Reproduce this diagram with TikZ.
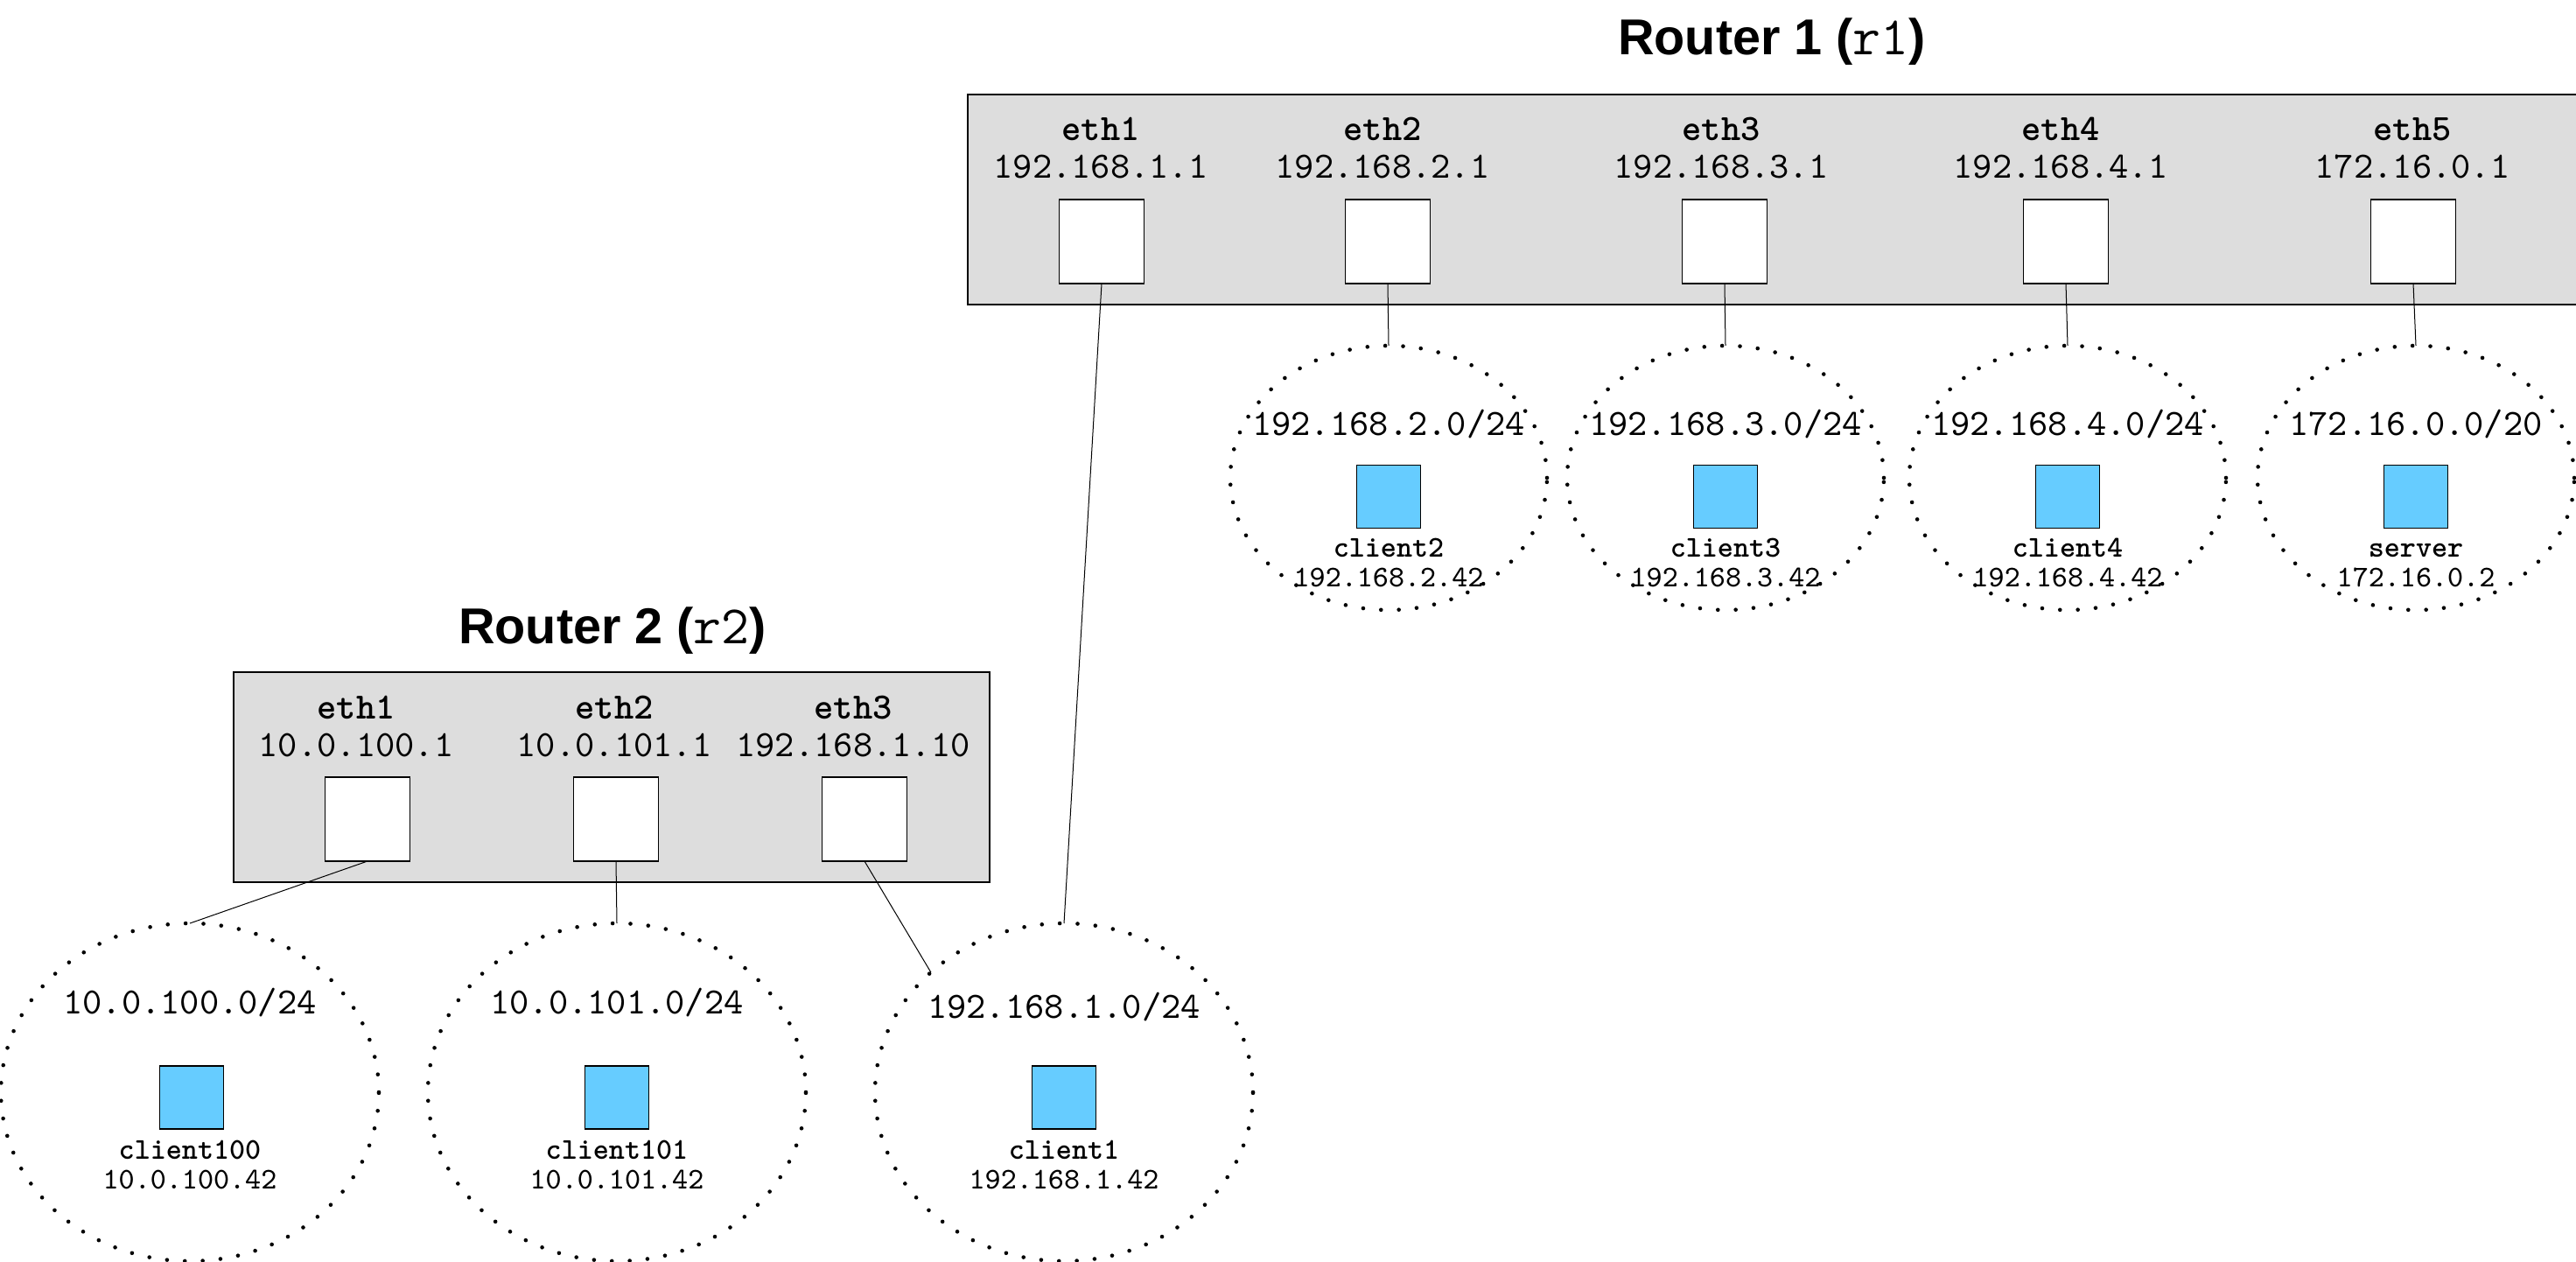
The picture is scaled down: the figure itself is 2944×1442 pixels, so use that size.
\documentclass[tikz,border=0pt]{standalone}
\usepackage{fontspec}
\setmainfont{Liberation Sans}
\usetikzlibrary{shapes.geometric}
\definecolor{routergray}{HTML}{DDDDDD}
\definecolor{hostblue}{HTML}{66CCFF}
\newcommand{\ipfont}{\ttfamily\mdseries\fontsize{10.6}{12}\selectfont}
\newcommand{\ethfont}{\ttfamily\bfseries\fontsize{10.6}{12}\selectfont}
\newcommand{\smallip}{\ttfamily\mdseries\fontsize{8.6}{10}\selectfont}
\newcommand{\smallname}{\ttfamily\bfseries\fontsize{8.6}{10}\selectfont}
\newcommand{\titlemono}{\ttfamily\mdseries\fontsize{15.5}{16}\selectfont}
\begin{document}
\begin{tikzpicture}[x=0.25pt,y=-0.25pt,
  routerbox/.style={rectangle,draw=black,line width=0.45pt,fill=routergray,inner sep=0pt,outer sep=0pt},
  iface/.style={rectangle,draw=black,line width=0.4pt,fill=white,minimum width=24.25pt,minimum height=24pt,inner sep=0pt,outer sep=0pt},
  host/.style={rectangle,draw=black,line width=0.4pt,fill=hostblue,minimum width=18.25pt,minimum height=18pt,inner sep=0pt,outer sep=0pt},
  subnet/.style={ellipse,draw=black,line width=1.15pt,line cap=round,dash pattern=on 0pt off 5.1pt,inner sep=0pt,outer sep=0pt},
  topnet/.style={subnet,minimum width=90.5pt,minimum height=75.5pt},
  botnet/.style={subnet,minimum width=108pt,minimum height=96.5pt},
  link/.style={draw=black,line width=0.25pt},
  lbl/.style={anchor=base,inner sep=0pt},
  title/.style={anchor=base,inner sep=0pt,font=\bfseries\fontsize{14.4}{16}\selectfont}]
\useasboundingbox (0,0) rectangle (2944,1442);
\begin{scope}
\clip (0,0) rectangle (2944,1442);

% ---------- Router 1 ----------
\node[title] (r1title) at (2025,63) {Router 1 ({\titlemono r1})};
\node[routerbox,minimum width=470pt,minimum height=60pt] (r1) at (2046,228) {};
\node[iface] (r1e1) at (1259,276) {};
\node[iface] (r1e2) at (1586,276) {};
\node[iface] (r1e3) at (1971,276) {};
\node[iface] (r1e4) at (2361,276) {};
\node[iface] (r1e5) at (2758,276) {};
\node[lbl,font=\ethfont] (r1e1n) at (1258,161) {eth1};
\node[lbl,font=\ipfont]  (r1e1a) at (1258,204) {192.168.1.1};
\node[lbl,font=\ethfont] (r1e2n) at (1580,161) {eth2};
\node[lbl,font=\ipfont]  (r1e2a) at (1580,204) {192.168.2.1};
\node[lbl,font=\ethfont] (r1e3n) at (1967,161) {eth3};
\node[lbl,font=\ipfont]  (r1e3a) at (1967,204) {192.168.3.1};
\node[lbl,font=\ethfont] (r1e4n) at (2355,161) {eth4};
\node[lbl,font=\ipfont]  (r1e4a) at (2355,204) {192.168.4.1};
\node[lbl,font=\ethfont] (r1e5n) at (2757,161) {eth5};
\node[lbl,font=\ipfont]  (r1e5a) at (2757,204) {172.16.0.1};

% ---------- Router 2 ----------
\node[title] (r2title) at (700,736) {Router 2 ({\titlemono r2})};
\node[routerbox,minimum width=216pt,minimum height=60pt] (r2) at (699,888) {};
\node[iface] (r2e1) at (420,936) {};
\node[iface] (r2e2) at (704,936) {};
\node[iface] (r2e3) at (988,936) {};
\node[lbl,font=\ethfont] (r2e1n) at (407,822) {eth1};
\node[lbl,font=\ipfont]  (r2e1a) at (407,865) {10.0.100.1};
\node[lbl,font=\ethfont] (r2e2n) at (702,822) {eth2};
\node[lbl,font=\ipfont]  (r2e2a) at (702,865) {10.0.101.1};
\node[lbl,font=\ethfont] (r2e3n) at (975,822) {eth3};
\node[lbl,font=\ipfont]  (r2e3a) at (975,865) {192.168.1.10};

% ---------- upper subnets ----------
\node[topnet] (net2) at (1587,546) {};
\node[lbl,font=\ipfont] (net2l) at (1587,498) {192.168.2.0/24};
\node[host] (client2) at (1587,567.5) {};
\node[lbl,font=\smallname] (client2n) at (1587,637) {client2};
\node[lbl,font=\smallip] (client2a) at (1587,671) {192.168.2.42};

\node[topnet] (net3) at (1972,546) {};
\node[lbl,font=\ipfont] (net3l) at (1972,498) {192.168.3.0/24};
\node[host] (client3) at (1972,567.5) {};
\node[lbl,font=\smallname] (client3n) at (1972,637) {client3};
\node[lbl,font=\smallip] (client3a) at (1972,671) {192.168.3.42};

\node[topnet] (net4) at (2363,546) {};
\node[lbl,font=\ipfont] (net4l) at (2363,498) {192.168.4.0/24};
\node[host] (client4) at (2363,567.5) {};
\node[lbl,font=\smallname] (client4n) at (2363,637) {client4};
\node[lbl,font=\smallip] (client4a) at (2363,671) {192.168.4.42};

\node[topnet] (netsrv) at (2761,546) {};
\node[lbl,font=\ipfont] (netsrvl) at (2761,498) {172.16.0.0/20};
\node[host] (server) at (2761,567.5) {};
\node[lbl,font=\smallname] (servern) at (2761,637) {server};
\node[lbl,font=\smallip] (servera) at (2761,671) {172.16.0.2};

% ---------- lower subnets ----------
\node[botnet] (net100) at (217,1248) {};
\node[lbl,font=\ipfont] (net100l) at (217,1158) {10.0.100.0/24};
\node[host] (client100) at (219,1254) {};
\node[lbl,font=\smallname] (client100n) at (217,1324) {client100};
\node[lbl,font=\smallip] (client100a) at (217,1358) {10.0.100.42};

\node[botnet] (net101) at (705,1248) {};
\node[lbl,font=\ipfont] (net101l) at (705,1158) {10.0.101.0/24};
\node[host] (client101) at (705,1254) {};
\node[lbl,font=\smallname] (client101n) at (705,1324) {client101};
\node[lbl,font=\smallip] (client101a) at (705,1358) {10.0.101.42};

\node[botnet] (net1) at (1216,1248) {};
\node[lbl,font=\ipfont] (net1l) at (1216,1163) {192.168.1.0/24};
\node[host] (client1) at (1216,1254) {};
\node[lbl,font=\smallname] (client1n) at (1216,1324) {client1};
\node[lbl,font=\smallip] (client1a) at (1216,1358) {192.168.1.42};

% ---------- links ----------
\draw[link] (r1e1.south) -- (net1.north);
\draw[link] (r1e2.south) -- (net2.north);
\draw[link] (r1e3.south) -- (net3.north);
\draw[link] (r1e4.south) -- (net4.north);
\draw[link] (r1e5.south) -- (netsrv.north);
\draw[link] (r2e1.south) -- (net100.north);
\draw[link] (r2e2.south) -- (net101.north);
\draw[link] (r2e3.south) -- (net1.138);
\end{scope}
\end{tikzpicture}
\end{document}
